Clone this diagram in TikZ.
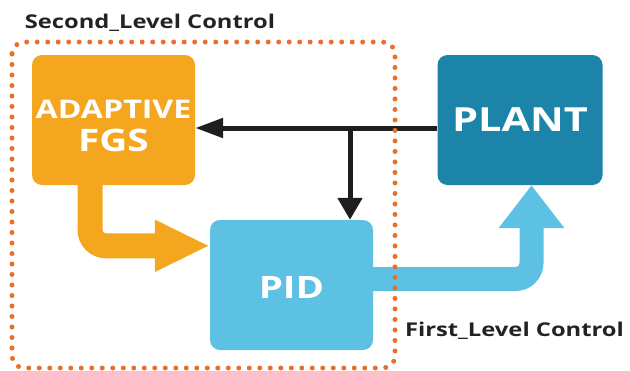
\documentclass[tikz,border=0pt]{standalone}
\usepackage{fontspec}
\setmainfont{Open Sans}[FakeStretch=1.25]
\usetikzlibrary{arrows.meta}
\definecolor{fgsorange}{RGB}{244,167,30}
\definecolor{plantblue}{RGB}{27,132,168}
\definecolor{pidblue}{RGB}{93,193,228}
\definecolor{dotorange}{RGB}{236,110,42}
\definecolor{darkline}{RGB}{30,30,30}
\definecolor{labelgray}{RGB}{35,35,35}
\tikzset{
  blockbox/.style={rounded corners=10pt, inner sep=0pt, text=white, font=\bfseries},
  blk/.style={draw=darkline, line width=5pt},
  blktiph/.style={-{Triangle[length=28pt,width=19pt]}},
  blktipv/.style={-{Triangle[length=22pt,width=24pt]}},
  fatorange/.style={draw=fgsorange, line width=25pt, rounded corners=16pt, -{Triangle[length=55pt,width=48pt]}},
  fatblue/.style={draw=pidblue, line width=24pt, rounded corners=16pt, -{Triangle[length=43pt,width=63pt]}},
  dotbox/.style={draw=dotorange, line width=5pt, line cap=round, dash pattern=on 0pt off 10.5pt, rounded corners=12pt},
  lvl/.style={font=\bfseries\fontsize{19}{21}\selectfont, text=labelgray, inner sep=0pt}
}
\begin{document}
\begin{tikzpicture}[x=1pt,y=-1pt]
\useasboundingbox (0,0) rectangle (630,370);
% blocks
\node[blockbox, fill=fgsorange, minimum width=163pt, minimum height=130pt, align=center,
      font=\bfseries\fontsize{25.7}{33}\selectfont] (fgs) at (113.5,120)
  {\rule{0pt}{30pt}ADAPTIVE\\\fontsize{31}{33}\selectfont FGS};
\node[blockbox, fill=plantblue, minimum width=165pt, minimum height=130pt, font=\bfseries\fontsize{33.2}{36}\selectfont] (plant) at (520,120) {PLANT};
\node[blockbox, fill=pidblue, minimum width=163pt, minimum height=130pt, font=\bfseries\fontsize{30.8}{34}\selectfont] (pid) at (291.5,285) {\rule{0pt}{27pt}PID};
% fat arrows
\draw[fatorange] ([xshift=-23.5pt]fgs.south) |- ([yshift=-26pt]pid.north west);
\draw[fatblue] ([yshift=6pt]pid.east) -| ([xshift=11.5pt]plant.south);
% feedback line
\coordinate (j) at (350,128);
\draw[blk, blktiph] ([yshift=-8pt]plant.west) -- ([yshift=-8pt]fgs.east);
\draw[blk, blktipv] (j) -- (j |- pid.north);
% dotted frame
\draw[dotbox] (12,42) rectangle (395,368);
% labels
\node[lvl] (l2) at (150,23) {Second\_Level Control};
\node[lvl] (l1) at (514.5,331) {First\_Level Control};
\end{tikzpicture}
\end{document}
